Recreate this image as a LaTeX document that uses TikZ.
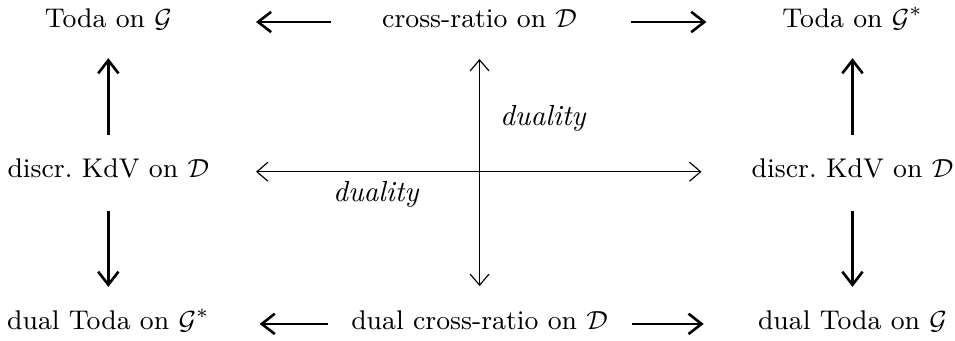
\documentclass[tikz,border=0pt]{standalone}
\usetikzlibrary{arrows.meta}

\begin{document}
\begin{tikzpicture}[
    every node/.style={inner sep=0pt, text height=6pt, text depth=2pt, font=\fontsize{9.3}{11}\selectfont},
    bigarrow/.style={line width=0.9pt, -{Straight Barb[length=4.5pt,width=7pt]}},
    dualarrow/.style={line width=0.4pt, {Straight Barb[length=3.8pt,width=6.5pt]}-{Straight Barb[length=3.8pt,width=6.5pt]}},
    lbl/.style={font=\itshape}
]
  \useasboundingbox (0,0) rectangle (11.55,4.12);

  % nodes (three rows, three columns)
  \node (T1) at (1.31,3.854)  {Toda on $\mathcal{G}$};
  \node (CR) at (5.80,3.854)  {cross-ratio on $\mathcal{D}$};
  \node (T2) at (10.31,3.854) {Toda on $\mathcal{G}^*$};
  \node (K1) at (1.31,2.043)  {discr.\ KdV on $\mathcal{D}$};
  \node (K2) at (10.31,2.043) {discr.\ KdV on $\mathcal{D}$};
  \node (D1) at (1.31,0.203)  {dual Toda on $\mathcal{G}^*$};
  \node (DC) at (5.80,0.203)  {dual cross-ratio on $\mathcal{D}$};
  \node (D2) at (10.31,0.203) {dual Toda on $\mathcal{G}$};

  % horizontal maps
  \draw[bigarrow, shorten <=0.61cm, shorten >=1.01cm] (CR) -- (T1);
  \draw[bigarrow, shorten <=0.65cm, shorten >=0.91cm] (CR) -- (T2);
  \draw[bigarrow, shorten <=0.27cm, shorten >=0.60cm] (DC) -- (D1);
  \draw[bigarrow, shorten <=0.29cm, shorten >=0.65cm] (DC) -- (D2);

  % vertical maps
  \draw[bigarrow, shorten <=0.30cm, shorten >=0.29cm] (K1) -- (T1);
  \draw[bigarrow, shorten <=0.33cm, shorten >=0.30cm] (K1) -- (D1);
  \draw[bigarrow, shorten <=0.30cm, shorten >=0.29cm] (K2) -- (T2);
  \draw[bigarrow, shorten <=0.33cm, shorten >=0.30cm] (K2) -- (D2);

  % dualities
  \draw[dualarrow, shorten <=0.30cm, shorten >=0.31cm] (CR) -- (DC);
  \draw[dualarrow, shorten <=0.56cm, shorten >=0.60cm] (K1) -- (K2);
  \node[lbl] (dv) at (6.565,2.672) {duality};
  \node[lbl] (dh) at (4.546,1.753) {duality};
\end{tikzpicture}
\end{document}
